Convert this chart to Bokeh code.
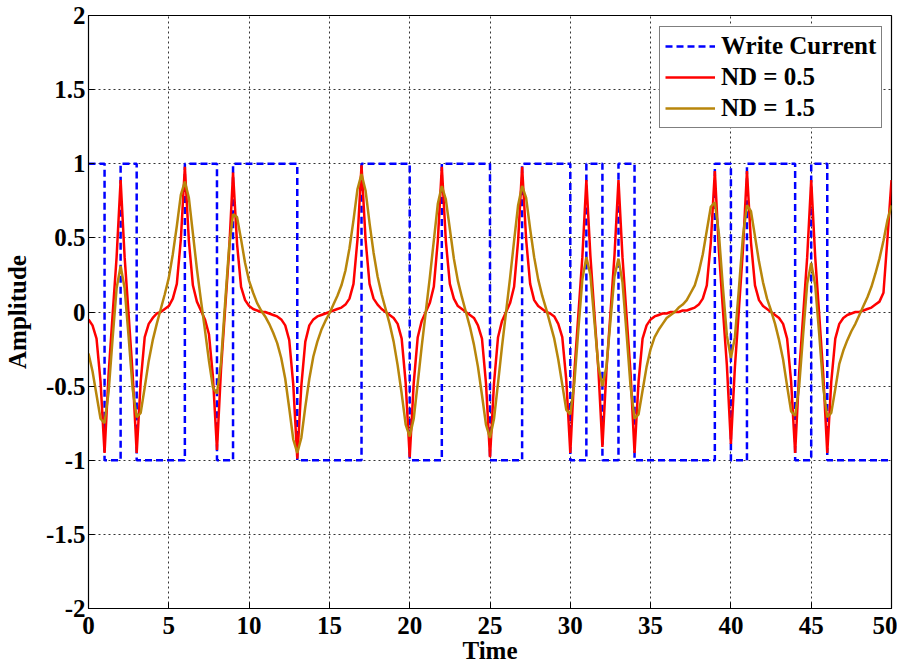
import numpy as np
from bokeh.plotting import figure
from bokeh.models import Legend, LegendItem, FixedTicker, Range1d
from bokeh.embed import file_html
from bokeh.resources import INLINE

# Write current: switching times and levels (stairs)
wc_time = [0, 1, 2, 3, 6, 8, 9, 13, 17, 20, 22, 25, 27, 30, 31, 32, 33, 34,
           39, 40, 41, 44, 45, 46, 50]
wc_level = [1, -1, 1, -1, 1, -1, 1, -1, 1, -1, 1, -1, 1, -1, 1, -1, 1, -1,
            1, -1, 1, -1, 1, -1, -1]

# Readback amplitude, ND = 0.5 (sampled every 0.25 time units from 0 to 50)
nd05 = [
    -0.05, -0.09, -0.18, -0.47, -0.95, -0.42, -0.02, 0.37, 0.89, 0.37, -0.02, -0.42, -0.95,
    -0.47, -0.17, -0.08, -0.04, -0.01, 0.00, 0.02, 0.04, 0.09, 0.19, 0.49, 0.98,
    0.48, 0.18, 0.07, 0.01, -0.05, -0.15, -0.44, -0.93, -0.39, 0.01, 0.40, 0.94,
    0.46, 0.17, 0.08, 0.04, 0.02, 0.01, 0.00, 0.00, -0.01, -0.02, -0.03, -0.05,
    -0.09, -0.19, -0.49, -0.99, -0.50, -0.20, -0.09, -0.05, -0.03, -0.02, -0.01, 0.00,
    0.01, 0.02, 0.03, 0.05, 0.09, 0.19, 0.49, 0.99, 0.49, 0.19, 0.09, 0.05,
    0.02, 0.00, -0.02, -0.04, -0.08, -0.18, -0.48, -0.98, -0.48, -0.17, -0.06, 0.00,
    0.06, 0.17, 0.48, 0.98, 0.48, 0.19, 0.09, 0.04, 0.02, 0.00, -0.02, -0.04,
    -0.09, -0.18, -0.48, -0.98, -0.48, -0.17, -0.06, 0.00, 0.06, 0.17, 0.48, 0.98,
    0.49, 0.19, 0.08, 0.04, 0.02, 0.00, -0.01, -0.03, -0.08, -0.17, -0.46, -0.95,
    -0.41, -0.02, 0.37, 0.89, 0.38, -0.01, -0.39, -0.91, -0.39, -0.01, 0.38, 0.89,
    0.37, -0.02, -0.41, -0.95, -0.47, -0.18, -0.09, -0.05, -0.03, -0.02, -0.01, -0.01,
    0.00, 0.00, 0.00, 0.01, 0.01, 0.02, 0.03, 0.05, 0.09, 0.18, 0.47, 0.95,
    0.42, 0.02, -0.36, -0.89, -0.37, 0.02, 0.42, 0.95, 0.47, 0.18, 0.08, 0.04,
    0.02, 0.00, -0.02, -0.04, -0.08, -0.18, -0.47, -0.95, -0.41, -0.02, 0.37, 0.89,
    0.37, -0.02, -0.42, -0.95, -0.47, -0.18, -0.08, -0.04, -0.02, -0.01, 0.00, 0.00,
    0.01, 0.02, 0.03, 0.05, 0.07, 0.13, 0.50, 0.89,
]

# Readback amplitude, ND = 1.5 (same sampling)
nd15 = [
    -0.28, -0.40, -0.56, -0.72, -0.75, -0.54, -0.18, 0.16, 0.31, 0.16, -0.17, -0.52, -0.71,
    -0.68, -0.51, -0.33, -0.19, -0.08, 0.02, 0.12, 0.23, 0.39, 0.58, 0.79, 0.88,
    0.77, 0.53, 0.29, 0.08, -0.12, -0.33, -0.51, -0.55, -0.34, 0.05, 0.43, 0.66,
    0.64, 0.49, 0.33, 0.21, 0.13, 0.06, 0.01, -0.03, -0.08, -0.14, -0.21, -0.31,
    -0.45, -0.65, -0.86, -0.95, -0.85, -0.64, -0.45, -0.30, -0.20, -0.12, -0.06, -0.01,
    0.05, 0.11, 0.18, 0.28, 0.43, 0.62, 0.83, 0.93, 0.82, 0.60, 0.40, 0.24,
    0.12, 0.02, -0.08, -0.20, -0.36, -0.55, -0.76, -0.84, -0.72, -0.48, -0.23, 0.00,
    0.23, 0.48, 0.73, 0.85, 0.76, 0.56, 0.36, 0.21, 0.10, 0.00, -0.10, -0.22,
    -0.37, -0.56, -0.76, -0.85, -0.72, -0.48, -0.23, 0.00, 0.23, 0.48, 0.72, 0.85,
    0.77, 0.56, 0.37, 0.22, 0.11, 0.02, -0.08, -0.18, -0.32, -0.49, -0.66, -0.69,
    -0.48, -0.12, 0.22, 0.37, 0.25, -0.06, -0.37, -0.50, -0.37, -0.06, 0.24, 0.36,
    0.20, -0.14, -0.50, -0.72, -0.69, -0.53, -0.37, -0.25, -0.17, -0.12, -0.08, -0.04,
    -0.02, 0.00, 0.03, 0.05, 0.08, 0.13, 0.18, 0.27, 0.39, 0.55, 0.71, 0.74,
    0.53, 0.17, -0.16, -0.31, -0.17, 0.16, 0.51, 0.72, 0.68, 0.51, 0.34, 0.20,
    0.09, 0.01, -0.08, -0.19, -0.32, -0.50, -0.67, -0.70, -0.50, -0.15, 0.19, 0.33,
    0.18, -0.15, -0.51, -0.71, -0.68, -0.52, -0.35, -0.26, -0.19, -0.13, -0.08, -0.02,
    0.04, 0.10, 0.17, 0.26, 0.36, 0.48, 0.62, 0.72,
]

time = np.linspace(0, 50, len(nd05))

x_ticks = [0, 5, 10, 15, 20, 25, 30, 35, 40, 45, 50]
y_ticks = [-2, -1.5, -1, -0.5, 0, 0.5, 1, 1.5, 2]
y_tick_labels = ["-2", "-1.5", "-1", "-0.5", "0", "0.5", "1", "1.5", "2"]
series_names = ["Write Current", "ND = 0.5", "ND = 1.5"]

FONT = "Liberation Serif"
FS = "25px"

p = figure(width=897, height=666, output_backend="svg", toolbar_location=None,
           x_range=Range1d(0, 50), y_range=Range1d(-2, 2),
           min_border_left=84, min_border_right=6, min_border_top=15,
           min_border_bottom=56, background_fill_color="white",
           border_fill_color="white")

p.outline_line_color = "black"
p.outline_line_width = 1.2

for ax in (p.xaxis[0], p.yaxis[0]):
    ax.axis_line_color = "black"
    ax.major_tick_in = 6
    ax.major_tick_out = 0
    ax.minor_tick_in = 0
    ax.minor_tick_out = 0
    ax.major_label_text_font = FONT
    ax.major_label_text_font_style = "bold"
    ax.major_label_text_font_size = FS
    ax.major_label_text_color = "black"
    ax.axis_label_text_font = FONT
    ax.axis_label_text_font_style = "bold"
    ax.axis_label_text_font_size = FS
    ax.axis_label_text_color = "black"

p.xaxis.ticker = FixedTicker(ticks=x_ticks)
p.yaxis.ticker = FixedTicker(ticks=y_ticks)
p.yaxis.major_label_overrides = {v: s for v, s in zip(y_ticks, y_tick_labels)}
p.xaxis.major_label_overrides = {v: str(v) for v in x_ticks}
p.xaxis.axis_label = "Time"
p.yaxis.axis_label = "Amplitude"
p.xaxis.major_label_standoff = 8
p.xaxis.axis_label_standoff = 0
p.yaxis.major_label_standoff = 3
p.yaxis.axis_label_standoff = 12

for g in (p.xgrid[0], p.ygrid[0]):
    g.grid_line_color = "black"
    g.grid_line_dash = "2 3"
    g.grid_line_width = 1
    g.grid_line_alpha = 0.8

r_wc = p.step(wc_time, wc_level, mode="after", line_color="#0000FF",
              line_width=2.5, line_dash="7 4")
r05 = p.line(time, nd05, line_color="#FF0000", line_width=2.5)
r15 = p.line(time, nd15, line_color="#B8860B", line_width=2.5)

legend = Legend(items=[LegendItem(label=series_names[0], renderers=[r_wc]),
                       LegendItem(label=series_names[1], renderers=[r05]),
                       LegendItem(label=series_names[2], renderers=[r15])],
                location=(571, 480))
legend.label_text_font = FONT
legend.label_text_font_style = "bold"
legend.label_text_font_size = FS
legend.label_text_color = "black"
legend.glyph_width = 50
legend.glyph_height = 24
legend.label_height = 24
legend.label_standoff = 6
legend.padding = 5
legend.spacing = 3
legend.margin = 0
legend.border_line_color = "black"
legend.border_line_width = 1.2
legend.background_fill_color = "white"
legend.background_fill_alpha = 1.0
p.add_layout(legend)

open("out.html", "w").write(file_html(p, INLINE))
